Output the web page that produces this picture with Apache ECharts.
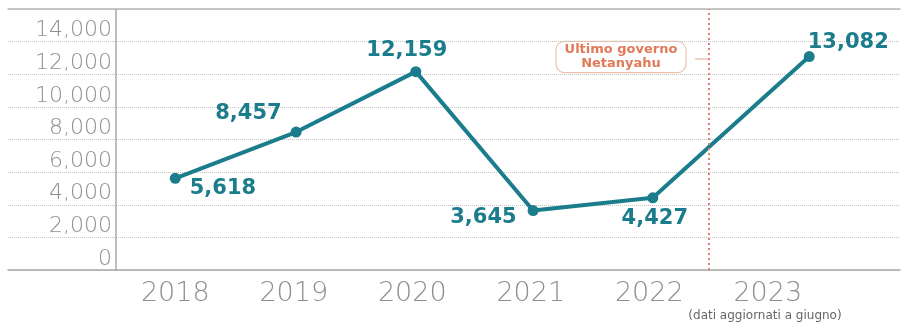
<!DOCTYPE html>
<html><head><meta charset="utf-8">
<script src="https://cdn.jsdelivr.net/npm/echarts@6/dist/echarts.min.js"></script>
<style>html,body{margin:0;padding:0;background:#fff}#c{width:901px;height:325px}</style>
</head><body><div id="c"></div>
<script>
const years = ['2018','2019','2020','2021','2022','2023'];
const pointPos = [0, 1.02, 2.03, 3.02, 4.03, 5.35];
const values = [5618, 8457, 12159, 3645, 4427, 13082];
const yTicks = [0, 2000, 4000, 6000, 8000, 10000, 12000, 14000, 16000];
const annotation = ['Ultimo governo', 'Netanyahu'];
const annotationX = 4.5;
const footnote = '(dati aggiornati a giugno)';

const teal = '#1b7d8c';
const labelCfg = [
  {position:'right', offset:[4,10]},
  {position:'left', offset:[-4,-18]},
  {position:'top', offset:[-9,0]},
  {position:'left', offset:[-6,7]},
  {position:'bottom', offset:[2,0]},
  {position:'right', offset:[-12,-14]}
];
const fmt = v => v.toLocaleString('en-US');
const chart = echarts.init(document.getElementById('c'));
chart.setOption({
  animation:false,
  grid:[
    {left:116, right:74, top:9, bottom:55},
    {left:8, right:1, top:9, bottom:55}
  ],
  xAxis:[
    {type:'category', gridIndex:0, data:years, boundaryGap:true,
     axisLine:{show:false}, axisTick:{show:false}, splitLine:{show:false},
     axisLabel:{color:'#8f8f8f', fontSize:27, fontFamily:'DejaVu Sans', fontWeight:200, margin:10}},
    {type:'value', gridIndex:0, min:-0.5, max:5.5, show:false},
    {type:'value', gridIndex:1, position:'bottom', min:0, max:1, axisLine:{show:true, lineStyle:{color:'#a8a8a8', width:1.5}}, axisTick:{show:false}, axisLabel:{show:false}, splitLine:{show:false}},
    {type:'value', gridIndex:1, position:'top', min:0, max:1, axisLine:{show:true, lineStyle:{color:'#b8b8b8', width:1.5}}, axisTick:{show:false}, axisLabel:{show:false}, splitLine:{show:false}}
  ],
  yAxis:[
    {type:'value', gridIndex:0, min:yTicks[0], max:yTicks[yTicks.length-1], interval:2000,
     axisLine:{show:true, onZero:false, lineStyle:{color:'#a8a8a8', width:1.5}}, axisTick:{show:false}, splitLine:{show:false},
     axisLabel:{color:'#8f8f8f', fontSize:22, fontFamily:'DejaVu Sans', fontWeight:200, margin:4, verticalAlign:'bottom', lineHeight:22,
       formatter: v => v === yTicks[yTicks.length-1] ? '' : fmt(v)}},
    {type:'value', gridIndex:1, min:yTicks[0], max:yTicks[yTicks.length-1], interval:2000,
     axisLine:{show:false}, axisTick:{show:false}, axisLabel:{show:false},
     splitLine:{show:true, lineStyle:{color:'#c4c4c4', type:[1,1], width:1}}}
  ],
  series:[{
    type:'line', xAxisIndex:1, yAxisIndex:0,
    data: values.map((v,i)=>({value:[pointPos[i], v], label:labelCfg[i]})),
    symbol:'circle', symbolSize:11,
    lineStyle:{color:teal, width:4},
    itemStyle:{color:teal},
    label:{show:true, color:teal, fontSize:21, fontWeight:'bold', fontFamily:'DejaVu Sans', distance:5,
      formatter: p => fmt(p.value[1])},
    markLine:{silent:true, symbol:'none', label:{show:false},
      lineStyle:{color:'#d9826e', type:[2,3], width:2},
      data:[{xAxis:annotationX}]}
  }],
  graphic:[
    {type:'line', shape:{x1:695, y1:59, x2:709, y2:59}, style:{stroke:'#e8b8a4', lineWidth:1.2}},
    {type:'text', x:621, y:57, style:{text:annotation.join('\n'), fill:'#e07a58', font:'bold 13px "DejaVu Sans"', align:'center', verticalAlign:'middle',
      backgroundColor:'#fff', borderColor:'#efc2ad', borderWidth:1.2, borderRadius:8, padding:[1,8], lineHeight:14}},
    {type:'text', x:765, y:316, style:{text:footnote, fill:'#666', font:'12px "DejaVu Sans"', align:'center', verticalAlign:'middle'}}
  ]
});
</script></body></html>
